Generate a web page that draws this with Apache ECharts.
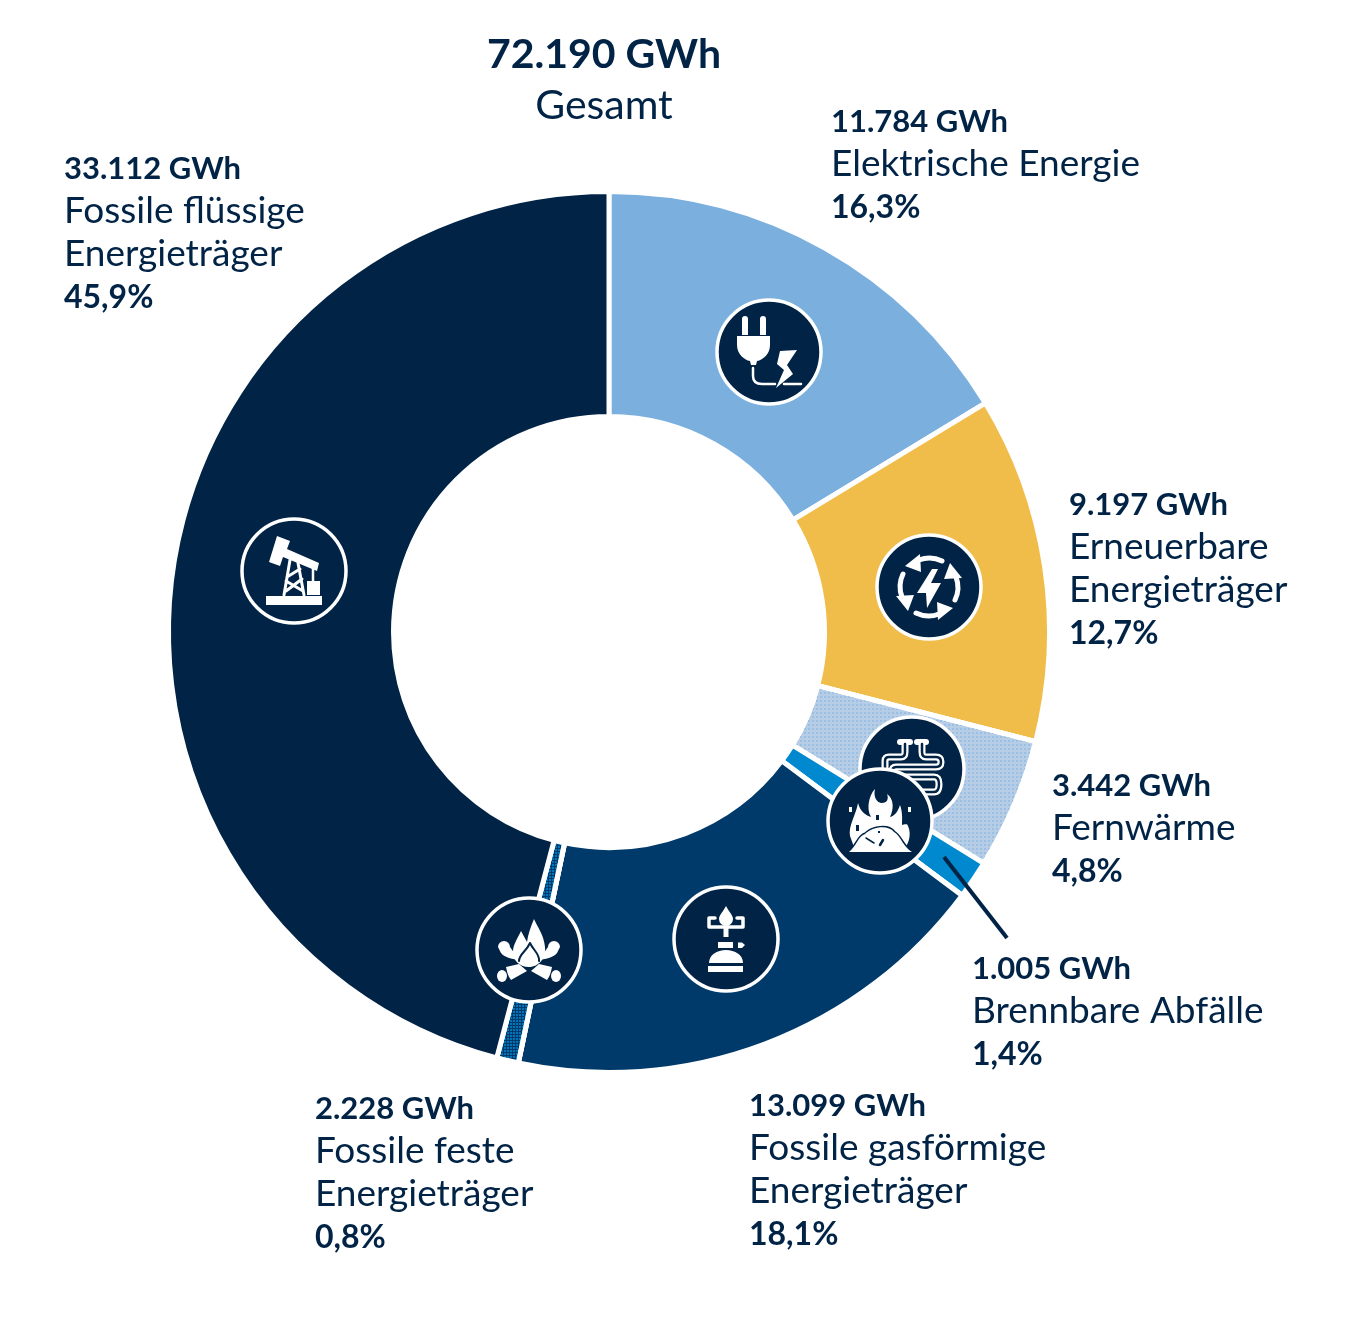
<!DOCTYPE html>
<html>
<head>
<meta charset="utf-8">
<style>
  html, body { margin: 0; padding: 0; background: #fff; }
  #chart { width: 1354px; height: 1338px; }
</style>
<script src="https://cdn.jsdelivr.net/npm/echarts@6/dist/echarts.min.js"></script>
</head>
<body>
<div id="chart"></div>
<script>
// Daten
const names = ['Elektrische Energie', 'Erneuerbare\nEnergieträger', 'Fernwärme', 'Brennbare Abfälle', 'Fossile gasförmige\nEnergieträger', 'Fossile feste\nEnergieträger', 'Fossile flüssige\nEnergieträger']
const shares = [16.3, 12.7, 4.8, 1.4, 18.1, 0.8, 45.9]
const gwhLabels = ['11.784 GWh', '9.197 GWh', '3.442 GWh', '1.005 GWh', '13.099 GWh', '2.228 GWh', '33.112 GWh']
const shareLabels = ['16,3%', '12,7%', '4,8%', '1,4%', '18,1%', '0,8%', '45,9%']
const totalLabel = '72.190 GWh'
const totalName = 'Gesamt'

// Layout
const DARK = '#012345'
const sliceColors = ['#7bafde', '#f0bc4a', '#b7cce5', '#0089cf', '#003a6b', '#003a6b', DARK]
const labelPos = [[831, 100], [1069, 483], [1052, 764], [972, 947], [749, 1084], [315, 1087], [64, 147]]
const iconPos = [[769, 352], [929, 587], [912, 769], [880, 821], [726, 939], [529, 950], [294, 571]]
const dots = (color, gap) => ({ symbol: 'circle', symbolSize: 1, dashArrayX: [2, gap], dashArrayY: [2, gap], color })
const sliceDecals = [null, null, dots('#8fbbe3', 2), null, null, dots('#0089cf', 1), null]

// Icons: [Art, Pfad, Strichstärke]  f = weiß gefüllt, d = dunkel gefüllt, s = weißer Strich, k = dunkler Strich
const arc = 'M-10,-27 A29,29 0 0 1 13,-26'
const arrow = 'M-24,-21 L-9,-33 L-8,-15 Z'
const pipeLeft = 'M-7,-25 V-17 Q-7,-12 -11,-12 H-23 Q-27,-12 -27,-8 V12'
const pipeRight = 'M10,-25 V-17 Q10,-12 14,-12 H24 Q29,-12 29,-7 Q29,-2 24,-2 H-16 Q-20,-2 -20,3 Q-20,8 -16,8 H22 Q27,8 27,15 Q27,23 22,23 H5'
const icons = [
  [ // Stecker
    ['f', 'M-27,-33 a3,3 0 0 1 6,0 V-17 H-27 Z'],
    ['f', 'M-9,-33 a3,3 0 0 1 6,0 V-17 H-9 Z'],
    ['f', 'M-32,-16 H1 V-7 C1,2 -6,8 -12,9 L-13,13 H-18 L-19,9 C-25,8 -32,2 -32,-7 Z'],
    ['s', 'M-16,16 V24 Q-16,32 -7,32 H6', 2.5],
    ['s', 'M15,32 H32', 2.5],
    ['f', 'M28,-2 L11,-1 L8,12 L15,18 L7,36 L24,22 L18,13 Z']
  ],
  [ // Kreislauf
    ['s', arc, 5], ['f', arrow],
    ['s', arc, 5, 90], ['f', arrow, 0, 90],
    ['s', arc, 5, 180], ['f', arrow, 0, 180],
    ['s', arc, 5, 270], ['f', arrow, 0, 270],
    ['f', 'M3,-18 L-12,6 L-3,6 L-2,21 L12,-4 L2,-4 L9,-18 Z']
  ],
  [ // Wärmerohr
    ['f', 'M-12,-30 H-2 a3,3 0 0 1 0,6 H-12 a3,3 0 0 1 0,-6 Z'],
    ['f', 'M5,-30 H14 a3,3 0 0 1 0,6 H5 a3,3 0 0 1 0,-6 Z'],
    ['s', pipeLeft, 7],
    ['k', pipeLeft, 2.5],
    ['s', pipeRight, 7],
    ['k', pipeRight, 2.5]
  ],
  [ // Abfälle
    ['f', 'M-30,15 C-32,5 -24,-6 -22,-18 C-19,-8 -14,-6 -9,-4 C-14,-12 -11,-26 -5,-32 C-7,-24 -3,-18 2,-18 C7,-18 9,-22 7,-27 C14,-22 14,-12 10,-4 C15,-5 18,-10 20,-16 C23,-8 22,0 22,4 C24,4 27,2 28,5 C32,14 28,22 26,26 L-26,26 Z'],
    ['d', 'M-4,-6 h3 v5 h-3 Z'],
    ['d', 'M-24,4 h3 v6 h-3 Z'],
    ['f', 'M-31,-14 h3 v5 h-3 Z'],
    ['f', 'M28,-14 h3 v5 h-3 Z'],
    ['k', 'M-31,31 C-24,26 -22,15 -15,13 C-8,6 8,3 14,11 C20,14 24,27 32,31', 3],
    ['f', 'M-31,31 C-24,26 -22,15 -15,13 C-8,6 8,3 14,11 C20,14 24,27 32,31 Z'],
    ['k', 'M-14,17 L-6,22', 1.5],
    ['k', 'M0,24 L3,19', 2.5],
    ['d', 'M-2,10 h2 v2 h-2 Z']
  ],
  [ // Gaskocher
    ['f', 'M0,-33 C3,-27 7,-24 7,-20 A7,7 0 0 1 -7,-20 C-7,-24 -3,-27 0,-33 Z'],
    ['s', 'M-11,-21 H-17 V-12 H17 V-21 H11', 3.5],
    ['f', 'M-2.5,-12 H2.5 V-2 H-2.5 Z'],
    ['f', 'M-8,3 H7 V9 H-8 Z'],
    ['f', 'M12,3.5 H16 L19,6 L16,9 H12 Z'],
    ['f', 'M-17,24 C-17,16 -9,11 0,11 C9,11 17,16 17,24 Z'],
    ['f', 'M-18,27 H17 V33 H-18 Z']
  ],
  [ // Lagerfeuer
    ['f', 'M0,17 C-10,17 -16,10 -16,2 C-16,-6 -11,-12 -8,-19 L-2,-8 C-1,-16 2,-24 5,-31 C8,-24 15,-15 16,-3 C17,8 10,17 0,17 Z'],
    ['k', 'M-10,11 C-10,4 -3,2 1,-7 C4,0 11,4 10,11', 2],
    ['f', 'M-8,10 C-7,5 -1,2 1,-3 C3,2 9,5 8,11 C7,15 -6,16 -8,10 Z'],
    ['f', 'M-31,-3 a6,6 0 0 1 12,0 C-17,0 -13,5 -11,10 C-17,9 -25,7 -28,3 Z'],
    ['f', 'M31,-3 a6,6 0 0 0 -12,0 C17,0 13,5 11,10 C17,9 25,7 28,3 Z'],
    ['f', 'M-23,17 L-10,14 L-2,21 L-18,30 C-21,26 -22,22 -23,17 Z'],
    ['f', 'M23,17 L10,14 L2,21 L18,30 C21,26 22,22 23,17 Z'],
    ['f', 'M-32,26 a5,6 0 1 0 10,0 a5,6 0 1 0 -10,0 Z'],
    ['f', 'M22,26 a5,6 0 1 0 10,0 a5,6 0 1 0 -10,0 Z']
  ],
  [ // Pumpe
    ['f', 'M-28,25 H28 V34 H-28 Z'],
    ['f', 'M-17,-35 L-4,-30 L-7,-22 L25,-8 L23,0 L-11,-14 L-14,-5 L-25,-9 Z'],
    ['s', 'M-4,-11 L-10,24 M4,-8 L10,24 M-7,6 L6,-2 M-8,10 L9,20 M-8,20 L8,8', 3],
    ['s', 'M19,-3 V10', 2.5],
    ['f', 'M13,10 H26 V24 H13 Z']
  ]
]

const iconPart = (part) => {
  const [kind, d, width, rot] = part
  const isStroke = kind === 's' || kind === 'k'
  const color = kind === 'f' || kind === 's' ? '#fff' : DARK
  return {
    type: 'path',
    rotation: rot ? -rot * Math.PI / 180 : 0,
    shape: { pathData: d },
    style: isStroke
      ? { fill: 'none', stroke: color, lineWidth: width, lineCap: 'round', lineJoin: 'round' }
      : { fill: color, stroke: 'none' }
  }
}

const chart = echarts.init(document.getElementById('chart'), null, { renderer: 'canvas' })

const labelText = (i) => [
  `{gwh|${gwhLabels[i]}}`,
  ...names[i].split('\n').map(t => `{name|${t}}`),
  `{pct|${shareLabels[i]}}`
].join('\n')

const FONT = 'Lato, "Noto Sans", sans-serif'

chart.setOption({
  animation: false,
  backgroundColor: '#fff',
  title: {
    text: totalLabel,
    subtext: totalName,
    left: 599,
    top: 29,
    textAlign: 'center',
    itemGap: 10,
    textStyle: { color: DARK, fontFamily: FONT, fontSize: 41, fontWeight: 'bold' },
    subtextStyle: { color: DARK, fontFamily: FONT, fontSize: 41, fontWeight: 'normal' }
  },
  series: [{
    type: 'pie',
    center: [609, 632],
    radius: [215.5, 440.5],
    startAngle: 90,
    clockwise: true,
    silent: true,
    data: shares.map((value, i) => ({
      value,
      name: names[i],
      itemStyle: { color: sliceColors[i], decal: sliceDecals[i] || undefined }
    })),
    itemStyle: { borderColor: '#fff', borderWidth: 5 },
    label: {
      show: true,
      position: 'outside',
      overflow: 'none',
      formatter: (p) => labelText(p.dataIndex),
      color: DARK,
      align: 'left',
      rich: {
        gwh: { fontFamily: FONT, fontSize: 31, fontWeight: 'bold', color: DARK, lineHeight: 43 },
        name: { fontFamily: FONT, fontSize: 37, fontWeight: 'normal', color: DARK, lineHeight: 43 },
        pct: { fontFamily: FONT, fontSize: 32, fontWeight: 'bold', color: DARK, lineHeight: 43 }
      }
    },
    labelLine: { show: false },
    labelLayout: (p) => ({
      x: labelPos[p.dataIndex][0],
      y: labelPos[p.dataIndex][1],
      align: 'left',
      verticalAlign: 'top',
      hideOverlap: false
    })
  }, {
    // Symbole über den Segmenten
    type: 'custom',
    coordinateSystem: 'none',
    silent: true,
    z: 5,
    data: icons.map((_, i) => i),
    renderItem: (params) => {
      const i = params.dataIndex
      return {
        type: 'group',
        x: iconPos[i][0],
        y: iconPos[i][1],
        children: [
          { type: 'circle', shape: { cx: 0, cy: 0, r: 52 }, style: { fill: DARK, stroke: '#fff', lineWidth: 3.5 } },
          ...icons[i].map(iconPart)
        ]
      }
    }
  }],
  graphic: [{
    type: 'line',
    z: 30,
    shape: { x1: 944, y1: 857, x2: 1007, y2: 938 },
    style: { stroke: DARK, lineWidth: 4 }
  }]
})
</script>
</body>
</html>
